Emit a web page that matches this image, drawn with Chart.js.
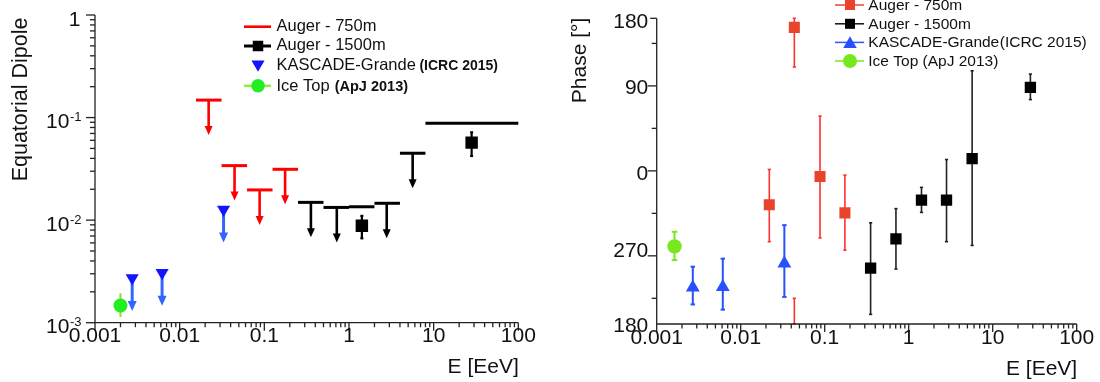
<!DOCTYPE html>
<html>
<head>
<meta charset="utf-8">
<script src="https://cdn.jsdelivr.net/npm/chart.js@4.4.1/dist/chart.umd.min.js"></script>
<style>
  html, body { margin: 0; padding: 0; background: #fff; }
  #wrap { position: relative; width: 1100px; height: 382px; overflow: hidden; }
  #wrap canvas { position: absolute; top: 0; }
  #dipole { left: 0; }
  #phase { left: 550px; }
</style>
</head>
<body>
<div id="wrap">
  <canvas id="dipole" width="550" height="382"></canvas>
  <canvas id="phase" width="550" height="382"></canvas>
</div>
<script>
// ---------- Equatorial dipole amplitude (upper limits and measurements) ----------
// Auger 750 m array: 99% CL upper limits per energy bin [EeV]
const aug750E      = [0.022, 0.0445, 0.088, 0.176];
const aug750BinLo  = [0.0156, 0.03125, 0.0625, 0.125];
const aug750BinHi  = [0.03125, 0.0625, 0.125, 0.25];
const aug750UL     = [0.148, 0.034, 0.0197, 0.0313];

// Auger 1500 m array: upper limits per energy bin
const aug1500E     = [0.355, 0.718, 1.42, 2.79, 5.65, 28.1];
const aug1500BinLo = [0.25, 0.5, 1, 2, 4, 8];
const aug1500BinHi = [0.5, 1, 2, 4, 8, 100];
const aug1500UL    = [0.0149, 0.0133, 0.0135, 0.0146, 0.0449, 0.0879];
// Auger 1500 m: measured amplitudes
const aug1500MeasE = [1.42, 28.1];
const aug1500Amp   = [0.0088, 0.057];
const aug1500AmpLo = [0.00665, 0.0422];
const aug1500AmpHi = [0.0110, 0.0718];

// KASCADE-Grande upper limits
const kgE  = [0.00275, 0.0062, 0.033];
const kgUL = [0.00273, 0.00307, 0.0127];

// IceTop amplitude
const itE     = [0.002];
const itAmp   = [0.00147];
const itAmpLo = [0.00114];
const itAmpHi = [0.00194];

// ---------- Right ascension phase [deg] ----------
const aug750PhE   = [0.0219, 0.0435, 0.088, 0.174];
const aug750Ph    = [-36, 152, -6, -44.5];
const aug750PhLo  = [-75, 110, -71, -84];
const aug750PhHi  = [1.5, 225, 58, -4.5];

const aug1500PhE  = [0.352, 0.705, 1.42, 2.82, 5.69, 28.1];
const aug1500Ph   = [-103, -72, -31, -31, 13, 88.5];
const aug1500PhLo = [-152, -104, -44, -75, -79, 75.5];
const aug1500PhHi = [-55, -40, -17.5, 12, 106, 102.5];

const kgPhE  = [0.00269, 0.00612, 0.0331];
const kgPh   = [-123.5, -123, -98];
const kgPhLo = [-141.5, -147, -133.5];
const kgPhHi = [-101.5, -93, -57.5];

const itPhE  = [0.00163];
const itPh   = [-80];
const itPhLo = [-94.5];
const itPhHi = [-64.5];

// ---------- Tick labels ----------
const energyTickLabels = ['0.001', '0.01', '0.1', '1', '10', '100'];
const dipoleTickExps   = [0, -1, -2, -3];
const phaseTickValues  = [161.6, 90, 0, -90, -162.2];
const phaseTickLabels  = ['180', '90', '0', '270', '180'];

// ---------- Drawing helpers ----------
const FONT = '"Liberation Sans", Arial, Helvetica, sans-serif';
const pts = (xs, ys) => xs.map((x, i) => ({ x, y: ys[i] }));

function line(ctx, x1, y1, x2, y2) {
  ctx.beginPath(); ctx.moveTo(x1, y1); ctx.lineTo(x2, y2); ctx.stroke();
}
function arrowDown(ctx, x, y0, len, headL, headW, lw, color) {
  ctx.strokeStyle = color; ctx.fillStyle = color; ctx.lineWidth = lw;
  line(ctx, x, y0, x, y0 + len - headL + 1);
  ctx.beginPath();
  ctx.moveTo(x - headW / 2, y0 + len - headL);
  ctx.lineTo(x + headW / 2, y0 + len - headL);
  ctx.lineTo(x, y0 + len);
  ctx.closePath(); ctx.fill();
}
function errBar(ctx, x, y1, y2, cap) {
  line(ctx, x, y1, x, y2);
  if (cap > 0) { line(ctx, x - cap, y1, x + cap, y1); line(ctx, x - cap, y2, x + cap, y2); }
}
function square(ctx, x, y, s, color) { ctx.fillStyle = color; ctx.fillRect(x - s / 2, y - s / 2, s, s); }
function circle(ctx, x, y, r, color) { ctx.fillStyle = color; ctx.beginPath(); ctx.arc(x, y, r, 0, Math.PI * 2); ctx.fill(); }
function triangle(ctx, x, y, r, down, color) {
  ctx.fillStyle = color; ctx.beginPath();
  const s = down ? -1 : 1;
  ctx.moveTo(x, y - s * r);
  ctx.lineTo(x + r * 0.866, y + s * r / 2);
  ctx.lineTo(x - r * 0.866, y + s * r / 2);
  ctx.closePath(); ctx.fill();
}
function logTicks(minExp, maxExp) {
  const out = [];
  for (let e = minExp; e <= maxExp; e++) {
    for (let m = 1; m <= 9; m++) {
      const v = m * Math.pow(10, e);
      if (e === maxExp && m > 1) break;
      out.push({ v, major: m === 1 });
    }
  }
  return out;
}
function drawEnergyAxis(ctx, xs, yAxisPix) {
  ctx.strokeStyle = '#222'; ctx.lineWidth = 1.3;
  line(ctx, xs.left, yAxisPix, xs.right, yAxisPix);
  logTicks(-3, 2).forEach(t => {
    const px = xs.getPixelForValue(t.v);
    line(ctx, px, yAxisPix, px, yAxisPix + (t.major ? 8 : 4.5));
  });
  ctx.fillStyle = '#111'; ctx.font = '21px ' + FONT;
  ctx.textAlign = 'center'; ctx.textBaseline = 'alphabetic';
  energyTickLabels.forEach((lab, i) => {
    ctx.fillText(lab, xs.getPixelForValue(Math.pow(10, i - 3)), yAxisPix + 19.5);
  });
  ctx.textAlign = 'right';
  ctx.fillText('E [EeV]', xs.right + 0.5, yAxisPix + 50.5);
}
function drawRotatedTitle(ctx, text, x, y, size) {
  ctx.save();
  ctx.translate(x, y); ctx.rotate(-Math.PI / 2);
  ctx.fillStyle = '#111'; ctx.font = size + 'px ' + FONT;
  ctx.textAlign = 'center'; ctx.textBaseline = 'alphabetic';
  ctx.fillText(text, 0, 0);
  ctx.restore();
}
function legendText(ctx, x, y, parts) {
  let cx = x;
  parts.forEach(p => {
    ctx.font = p.font; ctx.fillStyle = '#111';
    ctx.textAlign = 'left'; ctx.textBaseline = 'alphabetic';
    ctx.fillText(p.text, cx + (p.gap || 0), y);
    cx += (p.gap || 0) + ctx.measureText(p.text).width;
  });
}

// ---------- Left panel: dipole amplitude ----------
const dipoleDecor = {
  id: 'dipoleDecor',
  beforeDatasetsDraw(chart) {
    const { ctx, scales: { x: xs, y: ys } } = chart;
    ctx.save();
    // upper-limit bars with arrows
    const drawLimits = (E, lo, hi, ul, color, hasArrow) => {
      E.forEach((e, i) => {
        const yp = ys.getPixelForValue(ul[i]);
        ctx.strokeStyle = color; ctx.lineWidth = 3;
        line(ctx, xs.getPixelForValue(lo[i]), yp, xs.getPixelForValue(hi[i]), yp);
        if (hasArrow(i)) arrowDown(ctx, xs.getPixelForValue(e), yp, 35, 9, 8, 2.6, color);
      });
    };
    drawLimits(aug750E, aug750BinLo, aug750BinHi, aug750UL, '#ff0000', () => true);
    drawLimits(aug1500E, aug1500BinLo, aug1500BinHi, aug1500UL, '#000000',
      i => !aug1500MeasE.some(m => m >= aug1500BinLo[i] && m < aug1500BinHi[i]));
    // KASCADE-Grande arrows below the triangles
    kgE.forEach((e, i) => {
      arrowDown(ctx, xs.getPixelForValue(e), ys.getPixelForValue(kgUL[i]), 33, 10, 9, 3, '#3366ff');
    });
    // error bars
    ctx.strokeStyle = '#000'; ctx.lineWidth = 2.2;
    aug1500MeasE.forEach((e, i) => {
      errBar(ctx, xs.getPixelForValue(e), ys.getPixelForValue(aug1500AmpLo[i]), ys.getPixelForValue(aug1500AmpHi[i]), 1.5);
    });
    ctx.strokeStyle = '#99dd33'; ctx.lineWidth = 2.2;
    itE.forEach((e, i) => {
      errBar(ctx, xs.getPixelForValue(e), ys.getPixelForValue(itAmpLo[i]), ys.getPixelForValue(itAmpHi[i]), 0);
    });
    ctx.restore();
  },
  afterDraw(chart) {
    const { ctx, scales: { x: xs, y: ys } } = chart;
    ctx.save();
    // y axis
    ctx.strokeStyle = '#222'; ctx.lineWidth = 1.3;
    line(ctx, xs.left, ys.top, xs.left, ys.bottom);
    logTicks(-3, 0).forEach(t => {
      const py = ys.getPixelForValue(t.v);
      line(ctx, xs.left, py, xs.left - (t.major ? 9 : 5), py);
    });
    ctx.fillStyle = '#111'; ctx.textBaseline = 'alphabetic'; ctx.textAlign = 'right';
    const rightEdge = 81.5;
    dipoleTickExps.forEach(ex => {
      const py = ys.getPixelForValue(Math.pow(10, ex));
      if (ex === 0) {
        ctx.font = '21px ' + FONT;
        ctx.fillText('1', rightEdge - 1, py + 10.5);
      } else {
        const sup = '-' + (-ex);
        ctx.font = '13px ' + FONT;
        const w = ctx.measureText(sup).width;
        ctx.fillText(sup, rightEdge, py + 3.5);
        ctx.font = '21px ' + FONT;
        ctx.fillText('10', rightEdge - w - 0.5, py + 10.5);
      }
    });
    drawEnergyAxis(ctx, xs, ys.bottom);
    drawRotatedTitle(ctx, 'Equatorial Dipole', 27, 99.5, 21.5);

    // legend
    const lx0 = 244, lx1 = 271, mx = 258, tx = 276.5;
    const norm = '16.5px ' + FONT;
    ctx.lineWidth = 2.6;
    ctx.strokeStyle = '#ff0000'; line(ctx, lx0, 26.7, lx1, 26.7);
    legendText(ctx, tx, 30.5, [{ text: 'Auger - 750m', font: norm }]);
    ctx.strokeStyle = '#000'; ctx.lineWidth = 3; line(ctx, lx0, 46, lx1, 46);
    square(ctx, mx, 46, 10.5, '#000');
    legendText(ctx, tx, 50, [{ text: 'Auger - 1500m', font: norm }]);
    triangle(ctx, mx, 64.2, 7.6, true, '#1414ff');
    legendText(ctx, tx, 70, [{ text: 'KASCADE-Grande', font: norm },
                              { text: '(ICRC 2015)', font: 'bold 14px ' + FONT, gap: 3.5 }]);
    ctx.strokeStyle = '#8fee44'; ctx.lineWidth = 2.6; line(ctx, lx0, 85.8, lx1, 85.8);
    circle(ctx, mx, 85.8, 6.8, '#22ee22');
    legendText(ctx, tx, 90.5, [{ text: 'Ice Top', font: norm },
                               { text: '(ApJ 2013)', font: 'bold 14.5px ' + FONT, gap: 5 }]);
    ctx.restore();
  }
};

new Chart(document.getElementById('dipole'), {
  type: 'scatter',
  data: {
    datasets: [
      { label: 'Auger - 1500m', data: pts(aug1500MeasE, aug1500Amp), pointStyle: 'rect',
        pointRadius: 8.8, backgroundColor: '#000', borderWidth: 0 },
      { label: 'KASCADE-Grande', data: pts(kgE, kgUL), pointStyle: 'triangle', rotation: 180,
        pointRadius: 7.6, backgroundColor: '#1414ff', borderWidth: 0 },
      { label: 'Ice Top', data: pts(itE, itAmp), pointStyle: 'circle',
        pointRadius: 7, backgroundColor: '#22ee22', borderWidth: 0 }
    ]
  },
  options: {
    responsive: false, animation: false, events: [],
    layout: { padding: { left: 95, right: 31.7, top: 15, bottom: 59.3 } },
    scales: {
      x: { type: 'logarithmic', min: 0.001, max: 100, display: false },
      y: { type: 'logarithmic', min: 0.001, max: 1, display: false }
    },
    plugins: { legend: { display: false }, tooltip: { enabled: false } }
  },
  plugins: [dipoleDecor]
});

// ---------- Right panel: phase ----------
const phaseSeries = [
  { E: aug750PhE, lo: aug750PhLo, hi: aug750PhHi, color: '#ff3030', lw: 1.6, cap: 1.6 },
  { E: aug1500PhE, lo: aug1500PhLo, hi: aug1500PhHi, color: '#222', lw: 1.6, cap: 1.6 },
  { E: kgPhE, lo: kgPhLo, hi: kgPhHi, color: '#2850ff', lw: 2, cap: 2.2 },
  { E: itPhE, lo: itPhLo, hi: itPhHi, color: '#77e81e', lw: 2, cap: 2.8 }
];

const phaseDecor = {
  id: 'phaseDecor',
  beforeDatasetsDraw(chart) {
    const { ctx, scales: { x: xs, y: ys } } = chart;
    ctx.save();
    const clampPix = v => ys.getPixelForValue(Math.max(ys.min, Math.min(ys.max, v)));
    phaseSeries.forEach(s => {
      ctx.strokeStyle = s.color; ctx.lineWidth = s.lw;
      s.E.forEach((e, i) => {
        const px = xs.getPixelForValue(e);
        if (s.hi[i] > 180) {
          // the interval wraps through 180 deg
          errBar(ctx, px, clampPix(s.lo[i]), clampPix(180), s.cap);
          errBar(ctx, px, clampPix(-180), clampPix(s.hi[i] - 360), s.cap);
        } else {
          errBar(ctx, px, clampPix(s.lo[i]), clampPix(s.hi[i]), s.cap);
        }
      });
    });
    ctx.restore();
  },
  afterDraw(chart) {
    const { ctx, scales: { x: xs, y: ys } } = chart;
    ctx.save();
    ctx.strokeStyle = '#222'; ctx.lineWidth = 1.3;
    line(ctx, xs.left, ys.top, xs.left, ys.bottom);
    [135, 45, -45, -135].forEach(v => {
      const py = ys.getPixelForValue(v); line(ctx, xs.left, py, xs.left - 5, py);
    });
    [90, 0, -90].forEach(v => {
      const py = ys.getPixelForValue(v); line(ctx, xs.left, py, xs.left - 9, py);
    });
    line(ctx, xs.left, ys.top, xs.left - 6.5, ys.top);
    ctx.fillStyle = '#111'; ctx.font = '21px ' + FONT;
    ctx.textAlign = 'right'; ctx.textBaseline = 'alphabetic';
    const labelDy = [10, 8.3, 9.3, 0.7, 7.7];
    phaseTickLabels.forEach((lab, i) => {
      ctx.fillText(lab, xs.left - 8.4, ys.getPixelForValue(phaseTickValues[i]) + labelDy[i]);
    });
    drawEnergyAxis(ctx, xs, ys.bottom);
    drawRotatedTitle(ctx, 'Phase [°]', 36, 60.5, 21);

    // legend
    const lx0 = 285, lx1 = 314, mx = 300, tx = 318.3;
    const norm = '15.5px ' + FONT;
    ctx.lineWidth = 1.5;
    ctx.strokeStyle = '#ee4433'; line(ctx, lx0, 5, lx1, 5);
    square(ctx, mx, 5, 10, '#e8442c');
    legendText(ctx, tx, 10, [{ text: 'Auger - 750m', font: norm }]);
    ctx.strokeStyle = '#111'; line(ctx, lx0, 23.8, lx1, 23.8);
    square(ctx, mx, 23.8, 10, '#000');
    legendText(ctx, tx, 28.8, [{ text: 'Auger - 1500m', font: norm }]);
    ctx.strokeStyle = '#3355ff'; line(ctx, lx0, 42.4, lx1, 42.4);
    triangle(ctx, mx, 44, 7.8, false, '#2850ff');
    legendText(ctx, tx, 47.4, [{ text: 'KASCADE-Grande', font: norm },
                               { text: '(ICRC 2015)', font: norm, gap: 0.5 }]);
    ctx.strokeStyle = '#77e81e'; line(ctx, lx0, 61, lx1, 61);
    circle(ctx, mx, 61, 7, '#77e81e');
    legendText(ctx, tx, 66, [{ text: 'Ice Top', font: norm },
                             { text: '(ApJ 2013)', font: norm, gap: 4.3 }]);
    ctx.restore();
  }
};

new Chart(document.getElementById('phase'), {
  type: 'scatter',
  data: {
    datasets: [
      { label: 'Auger - 750m', data: pts(aug750PhE, aug750Ph), pointStyle: 'rect',
        pointRadius: 7.8, backgroundColor: '#e8442c', borderWidth: 0 },
      { label: 'Auger - 1500m', data: pts(aug1500PhE, aug1500Ph), pointStyle: 'rect',
        pointRadius: 8, backgroundColor: '#000', borderWidth: 0 },
      { label: 'KASCADE-Grande', data: pts(kgPhE, kgPh), pointStyle: 'triangle',
        pointRadius: 8, backgroundColor: '#2850ff', borderWidth: 0 },
      { label: 'Ice Top', data: pts(itPhE, itPh), pointStyle: 'circle',
        pointRadius: 7.2, backgroundColor: '#77e81e', borderWidth: 0 }
    ]
  },
  options: {
    responsive: false, animation: false, events: [],
    layout: { padding: { left: 106.7, right: 23.3, top: 18.3, bottom: 58 } },
    scales: {
      x: { type: 'logarithmic', min: 0.001, max: 100, display: false },
      y: { type: 'linear', min: -162.2, max: 161.6, display: false }
    },
    plugins: { legend: { display: false }, tooltip: { enabled: false } }
  },
  plugins: [phaseDecor]
});
</script>
</body>
</html>
